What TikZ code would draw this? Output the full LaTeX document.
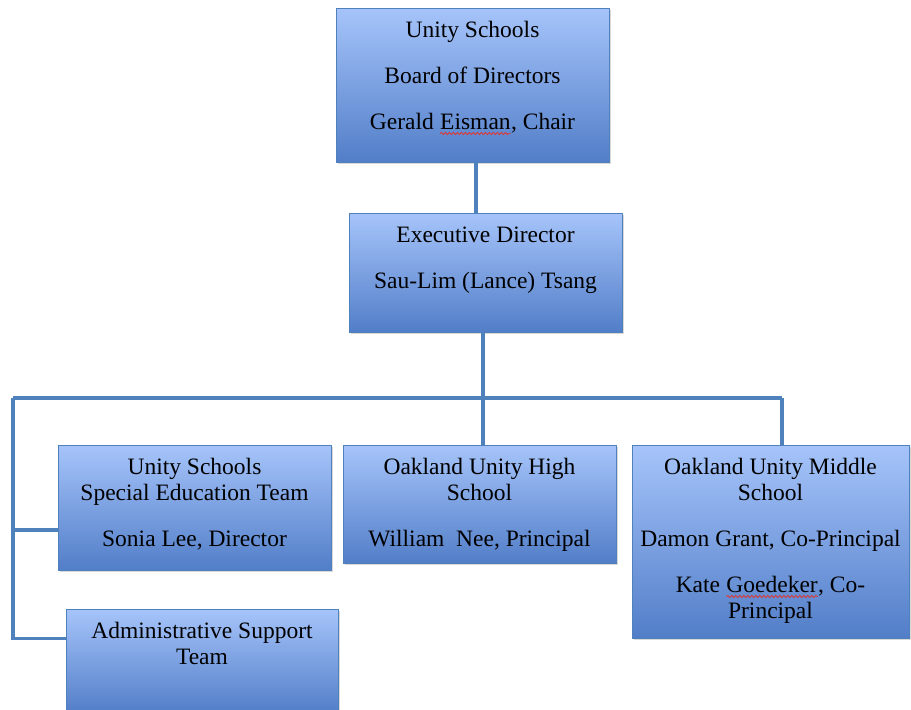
\documentclass[tikz,border=0pt]{standalone}
\usepackage{fontspec}
\setmainfont{Liberation Serif}
\usetikzlibrary{positioning}
\usetikzlibrary{shadows}
\usetikzlibrary{decorations.pathmorphing}
\definecolor{boxtop}{RGB}{166,196,250}
\definecolor{boxbot}{RGB}{82,126,200}
\definecolor{linkblue}{RGB}{79,129,189}
\definecolor{spellred}{RGB}{214,60,60}
\newcommand{\spellmark}[1]{\tikz[baseline=(w.base)]{\node[inner sep=0pt, outer sep=0pt] (w) {#1};
  \draw[spellred, line width=0.9pt, decorate, decoration={snake, amplitude=1.1pt, segment length=4pt}] ([yshift=-4pt]w.base west) -- ([yshift=-4pt]w.base east);}}
\begin{document}
\begin{tikzpicture}[x=1pt, y=-1pt,
  box/.style={rectangle, draw=linkblue, line width=1pt, top color=boxtop, bottom color=boxbot,
    inner sep=0pt, minimum width=273pt,
    drop shadow={shadow xshift=2pt, shadow yshift=-2pt, opacity=0.3}},
  txt/.style={anchor=north, align=center, inner sep=0pt, font=\fontsize{23.5}{26}\selectfont},
  link/.style={draw=linkblue, line width=3.2pt}]
\useasboundingbox (0,0) rectangle (911,710);
\fill[white] (0,0) rectangle (911,710);
% draw boxes
\node[box, minimum height=154pt] (board) at (472.5,85) {};
\node[box, minimum height=119pt] (exec) at (485.5,272.5) {};
\node[box, minimum height=125pt] (sped) at (194.5,507.5) {};
\node[box, minimum height=118pt] (high) at (479.5,504) {};
\node[box, minimum width=277pt, minimum height=193pt] (middle) at (770.5,541.5) {};
\node[box, minimum width=272pt, minimum height=104pt] (admin) at (202,661) {};
% box texts
\node[txt] (boardtxt) at ([yshift=-13.5pt]board.north) {Unity Schools\\[20pt]Board of Directors\\[20pt]Gerald \spellmark{Eisman}, Chair};
\node[txt] (exectxt) at ([yshift=-14pt]exec.north) {Executive Director\\[20pt]Sau-Lim (Lance) Tsang};
\node[txt] (spedtxt) at ([yshift=-13.5pt]sped.north) {Unity Schools\\Special Education Team\\[20pt]Sonia Lee, Director};
\node[txt] (hightxt) at ([yshift=-13.5pt]high.north) {Oakland Unity High\\School\\[20pt]William~ Nee, Principal};
\node[txt] (middletxt) at ([yshift=-13.5pt]middle.north) {Oakland Unity Middle\\School\\[20pt]Damon Grant, Co-Principal\\[20pt]Kate \spellmark{Goedeker}, Co-\\Principal};
\node[txt] (admintxt) at ([yshift=-13.5pt]admin.north) {Administrative Support\\Team};
% draw links
\coordinate (busL) at (13,398);
\coordinate (busR) at (782,398);
\coordinate (spedin) at ([yshift=-22.5pt]sped.west);
\coordinate (adminin) at ([yshift=22.5pt]admin.west);
\draw[link] ([xshift=3.5pt]board.south) -- ([xshift=3.5pt]board.south |- exec.north);
\draw[link] ([xshift=-2.5pt]exec.south) -- ([xshift=-2.5pt]exec.south |- high.north);
\draw[link] (busL) -- (busR);
\draw[link] (busR) -- (busR |- middle.north);
\draw[link] (busL) |- (adminin);
\draw[link] (busL |- spedin) -- (spedin);
\end{tikzpicture}
\end{document}
